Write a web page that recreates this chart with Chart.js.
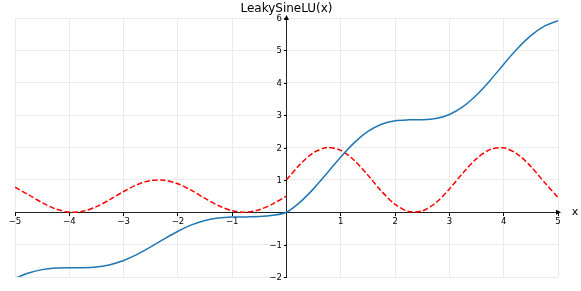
<!DOCTYPE html>
<html>
<head>
<meta charset="utf-8">
<script src="https://cdn.jsdelivr.net/npm/chart.js@4/dist/chart.umd.min.js"></script>
<style>
  html, body { margin: 0; padding: 0; background: #fff; }
  #wrap { width: 581px; height: 291px; }
</style>
</head>
<body>
<div id="wrap"><canvas id="myChart" width="581" height="291"></canvas></div>
<script>
// values, left half and right half of the x range
var xNeg = [-5, -4.75, -4.5, -4.25, -4, -3.75, -3.5, -3.25, -3, -2.75, -2.5, -2.25, -2, -1.75, -1.5, -1.25, -1, -0.75, -0.5, -0.25, 0]
var xPos = [0, 0.25, 0.5, 0.75, 1, 1.25, 1.5, 1.75, 2, 2.25, 2.5, 2.75, 3, 3.25, 3.5, 3.75, 4, 4.25, 4.5, 4.75, 5]

var sineNeg = [-2.04, -1.876, -1.772, -1.725, -1.714, -1.714, -1.688, -1.619, -1.490, -1.302, -1.071, -0.822, -0.587, -0.391, -0.253, -0.175, -0.146, -0.143, -0.135, -0.094, 0]
var sinePos = [0, 0.311, 0.730, 1.215, 1.708, 2.151, 2.495, 2.718, 2.827, 2.855, 2.858, 2.896, 3.020, 3.262, 3.623, 4.073, 4.573, 5.051, 5.456, 5.749, 5.920]

var derivNeg = [0.772, 0.538, 0.294, 0.101, 0.005, 0.031, 0.172, 0.392, 0.640, 0.853, 0.979, 0.989, 0.878, 0.675, 0.429, 0.201, 0.045, 0.001, 0.079, 0.260, 0.5]
var derivPos = [1, 1.479, 1.841, 1.998, 1.909, 1.599, 1.141, 0.649, 0.243, 0.023, 0.041, 0.294, 0.721, 1.215, 1.657, 1.938, 1.989, 1.799, 1.412, 0.925, 0.456]

var xTicks = [-5, -4, -3, -2, -1, 0, 1, 2, 3, 4, 5]
var yTicks = [-2, -1, 0, 1, 2, 3, 4, 5, 6]

function pts(xs, ys) {
    return xs.map(function(x, i) { return {x: x, y: ys[i]} })
}

var blue = pts(xNeg, sineNeg).concat(pts(xPos.slice(1), sinePos.slice(1)))

function tickLabel(v) {
    if (v === 0) return ''
    return String(v).replace('-', '\u2212')
}

// arrows, the y ticks left of the centred axis and the "x" label
var axisDecor = {
    id: 'axisDecor',
    afterDraw: function(chart) {
        var ctx = chart.ctx
        var xs = chart.scales.x, ys = chart.scales.y
        var ox = xs.getPixelForValue(0), oy = ys.getPixelForValue(0)
        var ex = xs.getPixelForValue(xTicks[xTicks.length - 1])
        var ty = ys.getPixelForValue(yTicks[yTicks.length - 1])
        var ax = Math.round(ox)
        ctx.save()
        ctx.fillStyle = '#000'
        ctx.beginPath()
        ctx.moveTo(ex + 3, oy)
        ctx.lineTo(ex - 2, oy - 2.5)
        ctx.lineTo(ex - 2, oy + 2.5)
        ctx.closePath()
        ctx.fill()
        ctx.beginPath()
        ctx.moveTo(ox, ty - 3)
        ctx.lineTo(ox - 2.5, ty + 2)
        ctx.lineTo(ox + 2.5, ty + 2)
        ctx.closePath()
        ctx.fill()

        ctx.strokeStyle = '#000'
        ctx.lineWidth = 1
        ctx.font = '8.5px "DejaVu Sans"'
        ctx.textAlign = 'right'
        ctx.textBaseline = 'middle'
        yTicks.forEach(function(v) {
            var t = tickLabel(v)
            if (!t) return
            var py = Math.round(ys.getPixelForValue(v)) + 0.5
            ctx.beginPath()
            ctx.moveTo(ax - 3, py)
            ctx.lineTo(ax, py)
            ctx.stroke()
            ctx.fillText(t, ax - 5, py)
        })

        ctx.font = '11px "DejaVu Sans"'
        ctx.textAlign = 'center'
        ctx.fillText('x', ex + 17, oy)
        ctx.restore()
    }
}

var tickFont = {family: 'DejaVu Sans', size: 8.5}

var chart = new Chart(document.getElementById('myChart').getContext('2d'), {
    type: 'line',
    data: {
        datasets: [{
                label: 'LeakySineLU',
                data: blue,
                borderColor: '#1f77b4',
                borderWidth: 1.5,
                pointRadius: 0,
                tension: 0.3
            },
            {
                label: 'derivative left',
                data: pts(xNeg, derivNeg),
                borderColor: '#ff0000',
                borderWidth: 1.5,
                borderDash: [5.5, 2.4],
                pointRadius: 0,
                tension: 0.3
            },
            {
                label: 'derivative right',
                data: pts(xPos, derivPos),
                borderColor: '#ff0000',
                borderWidth: 1.5,
                borderDash: [5.5, 2.4],
                pointRadius: 0,
                tension: 0.3
            }
        ]
    },
    options: {
        responsive: false,
        animation: false,
        layout: {padding: {left: 15, right: 23, top: 0, bottom: 14}},
        plugins: {
            legend: {display: false},
            tooltip: {enabled: false},
            title: {
                display: true,
                text: 'LeakySineLU(x)',
                color: '#000',
                fullSize: false,
                font: {family: 'DejaVu Sans', size: 12, weight: 'normal'},
                padding: {top: 1.5, bottom: 2.1}
            }
        },
        scales: {
            x: {
                type: 'linear',
                min: xTicks[0],
                max: xTicks[xTicks.length - 1],
                position: {y: 0},
                afterFit: function(s) { s.height = 0 },
                afterBuildTicks: function(s) { s.ticks = xTicks.map(function(v) { return {value: v} }) },
                grid: {color: '#ebebeb', lineWidth: 1, tickColor: '#000', tickLength: 3},
                border: {color: '#222', width: 1},
                ticks: {color: '#000', font: tickFont, padding: 1, maxRotation: 0, autoSkip: false, callback: tickLabel}
            },
            y: {
                type: 'linear',
                min: yTicks[0],
                max: yTicks[yTicks.length - 1],
                position: {x: 0},
                afterFit: function(s) { s.width = 0 },
                afterBuildTicks: function(s) { s.ticks = yTicks.map(function(v) { return {value: v} }) },
                grid: {color: '#ebebeb', lineWidth: 1, drawTicks: false},
                border: {color: '#222', width: 1},
                ticks: {display: false}
            }
        }
    },
    plugins: [axisDecor]
})
</script>
</body>
</html>
